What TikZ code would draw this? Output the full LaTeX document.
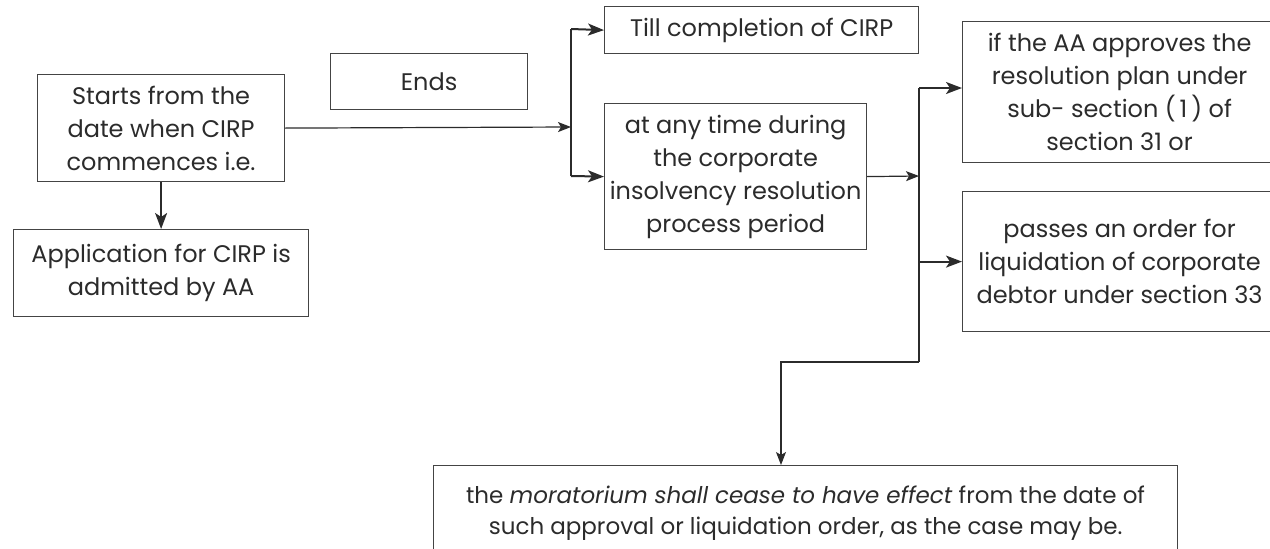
\documentclass[tikz,border=0pt]{standalone}
\usepackage{fontspec}
\setmainfont{Poppins}
\usetikzlibrary{arrows.meta,calc}
\definecolor{ink}{HTML}{2B2B2B}
\definecolor{edge}{HTML}{444444}
\begin{document}
\begin{tikzpicture}[x=1pt,y=-1pt,
  box/.style={draw=edge,line width=1.2pt,anchor=north west,inner sep=0pt,align=center,text=ink,font=\fontsize{24}{33}\selectfont},
  thin/.style={draw=ink,line width=1.2pt,-{Stealth[length=13pt,width=10pt,inset=3pt]}},
  thickarr/.style={draw=ink,line width=2pt,-{Stealth[length=16pt,width=12pt,inset=4pt]}},
  plain/.style={draw=ink,line width=1.2pt},
  plainthick/.style={draw=ink,line width=1.6pt}]
\useasboundingbox (0,0) rectangle (1270,549);
\clip (0,0) rectangle (1270,549);
\node[box,minimum width=247pt,minimum height=107pt] (start) at (37,74) {Starts from the\\date when CIRP\\commences i.e.};
\node[box,minimum width=295pt,minimum height=87pt] (app) at (13,229) {Application for CIRP is\\admitted by AA};
\node[box,minimum width=197pt,minimum height=56pt] (ends) at (330,53) {Ends};
\node[box,minimum width=314pt,minimum height=47pt] (till) at (604,6) {Till completion of CIRP};
\node[box,minimum width=262pt,minimum height=146pt] (any) at (604,103) {at any time during\\the corporate\\insolvency resolution\\process period};
\node[box,minimum width=314pt,minimum height=141pt] (appr) at (962,21) {if the AA approves the\\resolution plan under\\sub- section (\,1\,) of\\section 31 or};
\node[box,minimum width=314pt,minimum height=140pt] (pass) at (962,191) {passes an order for\\liquidation of corporate\\debtor under section 33};
\node[box,minimum width=744pt,minimum height=95pt,font=\fontsize{23}{31}\selectfont] (bot) at (433,465) {the \emph{moratorium shall cease to have effect} from the date of\\such approval or liquidation order, as the case may be.};
\coordinate (j1) at (571,127);
\coordinate (j1t) at (571,29);
\coordinate (j1b) at (571,176);
\coordinate (j2) at (919,176);
\coordinate (j2t) at (919,88);
\coordinate (j2b) at (919,362);
\coordinate (j3) at (781,362);
\draw[thickarr] (start.south) -- (app.north);
\draw[thin] (start.east) -- (j1);
\draw[plainthick] (j1t) -- (j1b);
\draw[thickarr] (j1t) -- (till.west);
\draw[thickarr] (j1b) -- (any.west);
\draw[thin] (any.east) -- (j2);
\draw[plainthick] (j2t) -- (j2b);
\draw[thickarr] (j2t) -- (j2t -| appr.west);
\draw[thickarr] (j2t |- pass.west) -- (pass.west);
\draw[thin] (j2b) -- (j3) -- (j3 |- bot.north);
\end{tikzpicture}
\end{document}
